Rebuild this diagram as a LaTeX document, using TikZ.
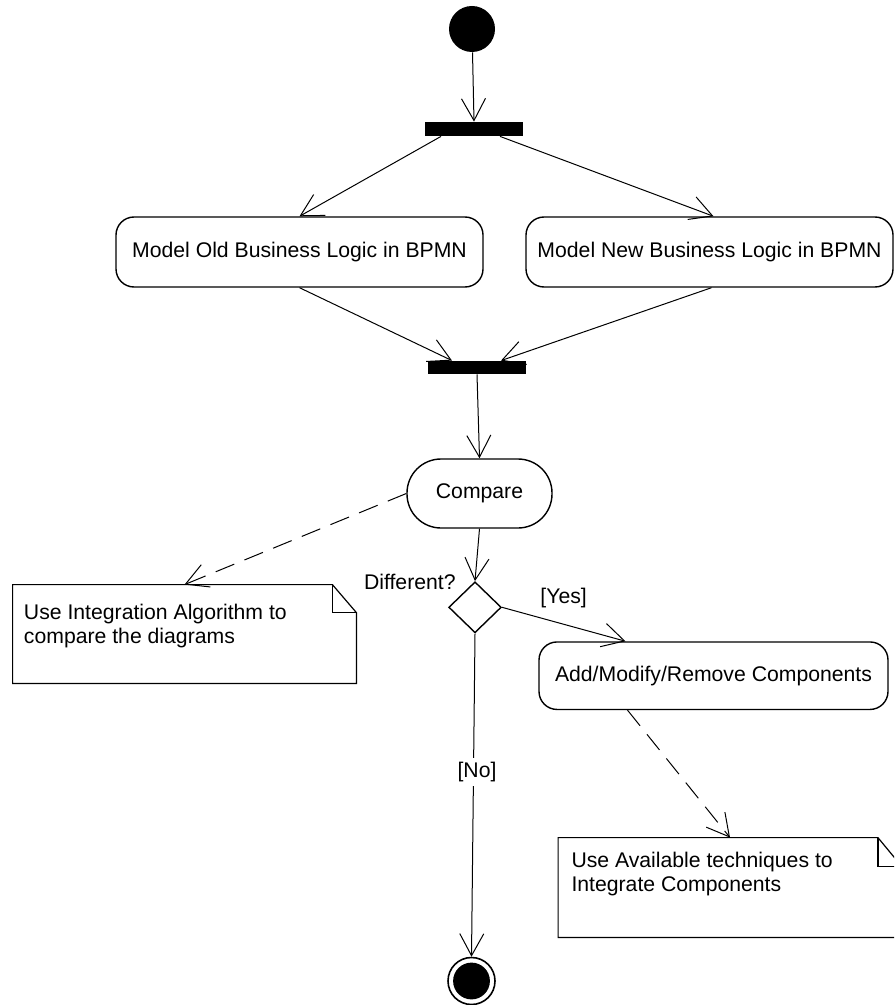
\documentclass[tikz,border=0pt]{standalone}
\usepackage{fontspec}
\setmainfont{Liberation Sans}
\usetikzlibrary{arrows.meta,shapes.geometric}
\begin{document}
\begin{tikzpicture}[x=0.5pt,y=-0.5pt,
  base/.style={font=\fontsize{10.6}{11.8}\selectfont},
  action/.style={base, draw, line width=0.7pt, rounded corners=9pt,
    minimum height=35pt, inner sep=0pt},
  bar/.style={fill=black, inner sep=0pt, minimum width=49pt},
  flow/.style={line width=0.5pt, -{Straight Barb[length=11pt,width=12pt]}},
  anchorline/.style={flow, dash pattern=on 10pt off 5.5pt},
  notebox/.style={inner sep=0pt, minimum width=171.5pt, minimum height=49pt},
  noteline/.style={line width=0.6pt},
  notetext/.style={base, align=left, anchor=base west, inner sep=0pt},
  guard/.style={base, inner sep=0pt}
]
\useasboundingbox (0,0) rectangle (894,1005);
\clip (0,0) rectangle (894,1005);

% start, fork and join
\node[circle, fill=black, minimum size=23pt, inner sep=0pt] (start) at (472,29) {};
\node[bar, minimum height=7pt] (fork) at (474,129) {};
\node[action, minimum width=183.5pt] (old) at (299.5,252) {Model Old Business Logic in BPMN};
\node[action, minimum width=183.5pt] (new) at (709.5,252) {Model New Business Logic in BPMN};
\node[bar, minimum height=6.5pt] (join) at (477,367.5) {};

% comparison and decision
\node[action, rounded corners=17pt, minimum width=72.5pt, minimum height=34.5pt] (cmp) at (479.5,493.5) {Compare};
\node[diamond, draw, line width=0.7pt, minimum width=26.3pt, minimum height=25.5pt, inner sep=0pt] (dia) at (475,607.3) {};
\node[action, minimum width=174.5pt, minimum height=33.75pt] (add) at (713.5,675.7) {Add/Modify/Remove Components};

% final node
\node[circle, draw, line width=0.8pt, minimum size=23.5pt, inner sep=0pt] (fin) at (471.5,981) {};
\fill (fin.center) circle (9.2pt);

% notes with folded corner
\node[notebox] (n1) at (184.5,634) {};
\draw[noteline] (n1.north west) -- ([xshift=-12pt]n1.north east) -- ([yshift=-14pt]n1.north east)
  -- (n1.south east) -- (n1.south west) -- cycle;
\draw[noteline] ([xshift=-12pt]n1.north east) |- ([yshift=-14pt]n1.north east);
\node[notetext] (t1) at ([xshift=5.5pt,yshift=-29.3pt]n1.north west)
  {Use Integration Algorithm to\\compare the diagrams};

\node[notebox, minimum height=49.5pt] (n2) at (730,887.5) {};
\draw[noteline] (n2.north west) -- ([xshift=-12pt]n2.north east) -- ([yshift=-14.5pt]n2.north east)
  -- (n2.south east) -- (n2.south west) -- cycle;
\draw[noteline] ([xshift=-12pt]n2.north east) |- ([yshift=-14.5pt]n2.north east);
\node[notetext] (t2) at ([xshift=6.5pt,yshift=-26.8pt]n2.north west)
  {Use Available techniques to\\Integrate Components};

% control flow
\draw[flow] (start) -- (fork.north);
\draw[flow] ([xshift=-16.5pt]fork.south) -- (old.north);
\draw[flow] ([xshift=13pt]fork.south) -- ([xshift=2pt]new.north);
\draw[flow] (old.south) -- ([xshift=-12.5pt]join.north);
\draw[flow] ([xshift=1pt]new.south) -- ([xshift=12pt]join.north);
\draw[flow] (join.south) -- (cmp.north);
\draw[flow] (cmp.south) -- (dia.north);
\draw[flow] (dia.east) -- ([xshift=-44pt]add.north);
\draw[flow] (dia.south) -- (fin.north);

% note anchors
\draw[anchorline] (cmp.west) -- (n1.north);
\draw[anchorline] ([xshift=-43pt]add.south) -- (n2.north);

% guards
\node[guard, anchor=base east] (diff) at (456,589) {Different?};
\node[guard, anchor=base west] (yes) at (540,603) {[Yes]};
\node[base, fill=white, inner sep=2pt] (no) at (477,772) {[No]};
\end{tikzpicture}
\end{document}
